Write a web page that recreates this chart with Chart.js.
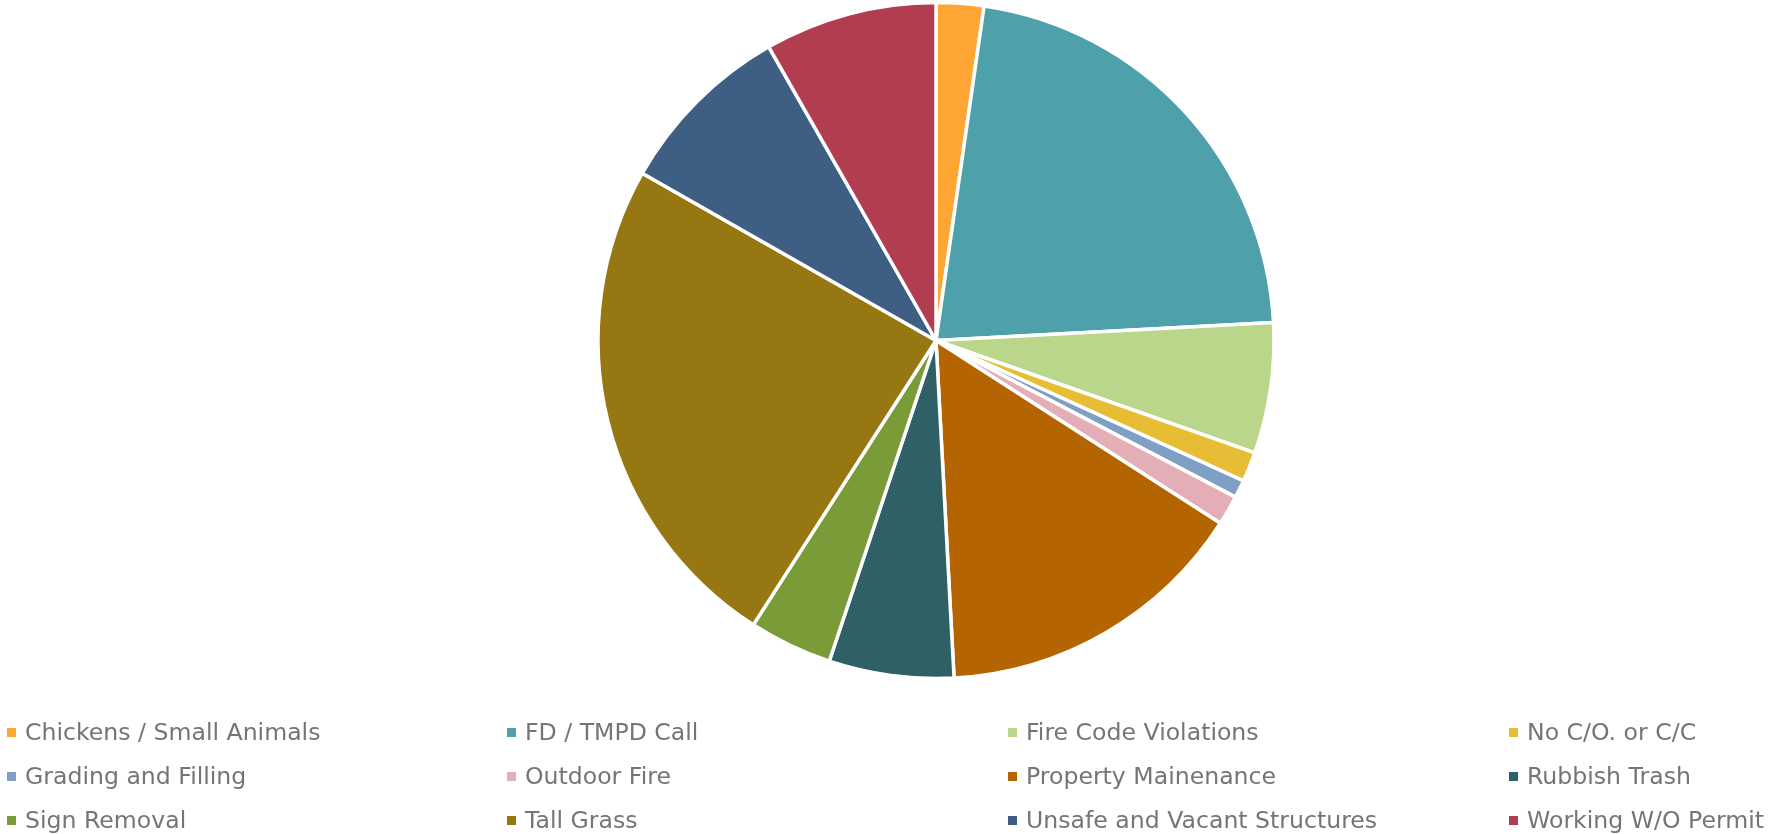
<html>
  <head>
    <script src="https://cdn.jsdelivr.net/npm/chart.js"></script>
    <style>
      body { margin: 0; overflow: hidden; background: #fff; }
      #wrap { position: relative; width: 1768px; height: 834px; overflow: hidden; }
      #legend { position: absolute; left: 0; top: 0; width: 1768px; height: 834px; pointer-events: none; }
      .item { position: absolute; display: flex; align-items: center; height: 24px; line-height: 24px;
              font-family: "DejaVu Sans", sans-serif; font-size: 23.6px; color: #757575; white-space: nowrap; }
      .box { width: 9px; height: 9px; margin-right: 9px; flex: none; }
    </style>
    <script>
// 件数
const labels = [
  'Chickens / Small Animals', 'FD / TMPD Call', 'Fire Code Violations', 'No C/O. or C/C',
  'Grading and Filling', 'Outdoor Fire', 'Property Mainenance', 'Rubbish Trash',
  'Sign Removal', 'Tall Grass', 'Unsafe and Vacant Structures', 'Working W/O Permit'
];
const counts = [8, 77, 22, 5, 3, 5, 53, 21, 14, 85, 30, 29];
const colors = [
  '#FFA533', '#4EA1AA', '#BAD68A', '#E8BD36',
  '#7F9FC5', '#E4AEB7', '#B46401', '#2E6066',
  '#799B38', '#977712', '#3F5E83', '#B23D50'
];

function drawLegend() {
  const legend = document.getElementById('legend');
  const colX = [7, 507, 1008, 1509];
  const rowY = [732, 776, 820];
  for (let i = 0; i < labels.length; i++) {
    const div = document.createElement('div');
    div.className = 'item';
    div.style.left = colX[i % 4] + 'px';
    div.style.top = (rowY[Math.floor(i / 4)] - 12) + 'px';
    const box = document.createElement('span');
    box.className = 'box';
    box.style.background = colors[i];
    div.appendChild(box);
    div.appendChild(document.createTextNode(labels[i]));
    legend.appendChild(div);
  }
}

window.onload = function () {
  const data = {
    labels: labels,
    datasets: [{
      data: counts,
      backgroundColor: colors,
      borderColor: '#ffffff',
      borderWidth: 3.5,
      radius: 338
    }]
  };

  const config = {
    type: 'pie',
    data: data,
    options: {
      responsive: true,
      maintainAspectRatio: false,
      animation: false,
      layout: { padding: { left: 104, right: 0, top: 0, bottom: 153 } },
      plugins: {
        legend: { display: false },
        tooltip: { enabled: false }
      }
    }
  };

  new Chart(document.getElementById('myChart'), config);
  drawLegend();
};
    </script>
  </head>
  <body>
    <div id="wrap">
      <canvas id="myChart"></canvas>
      <div id="legend"></div>
    </div>
  </body>
</html>
